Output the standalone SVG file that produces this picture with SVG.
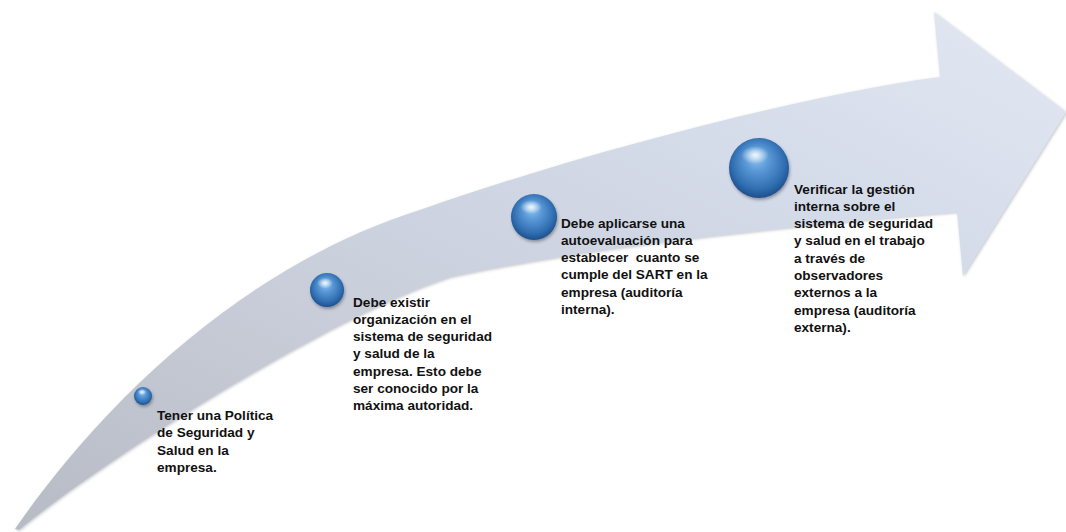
<svg xmlns="http://www.w3.org/2000/svg" width="1066" height="532" viewBox="0 0 1066 532">
  <defs>
    <linearGradient id="arrowFill" x1="0" y1="1" x2="1" y2="0">
      <stop offset="0" stop-color="#b7bbc4"/>
      <stop offset="0.35" stop-color="#c8cdd9"/>
      <stop offset="0.7" stop-color="#d4dbe9"/>
      <stop offset="1" stop-color="#e3e8f2"/>
    </linearGradient>
    <radialGradient id="ball" cx="0.5" cy="0.45" r="0.55" fx="0.45" fy="0.3">
      <stop offset="0" stop-color="#9cc9f0"/>
      <stop offset="0.35" stop-color="#5b9ad8"/>
      <stop offset="0.8" stop-color="#2f6db0"/>
      <stop offset="1" stop-color="#1f4f8c"/>
    </radialGradient>
    <radialGradient id="shine" cx="0.5" cy="0.5" r="0.5">
      <stop offset="0" stop-color="#ffffff" stop-opacity="0.85"/>
      <stop offset="1" stop-color="#ffffff" stop-opacity="0"/>
    </radialGradient>
    <filter id="soft" x="-5%" y="-5%" width="110%" height="110%">
      <feGaussianBlur in="SourceAlpha" stdDeviation="1.5"/>
      <feOffset dx="1" dy="1" result="b"/>
      <feFlood flood-color="#7a7f8a" flood-opacity="0.45"/>
      <feComposite in2="b" operator="in"/>
      <feMerge><feMergeNode/><feMergeNode in="SourceGraphic"/></feMerge>
    </filter>
    <filter id="ballShadow" x="-30%" y="-30%" width="160%" height="170%">
      <feGaussianBlur in="SourceAlpha" stdDeviation="1.5"/>
      <feOffset dx="1" dy="2" result="b"/>
      <feFlood flood-color="#333c4a" flood-opacity="0.45"/>
      <feComposite in2="b" operator="in"/>
      <feMerge><feMergeNode/><feMergeNode in="SourceGraphic"/></feMerge>
    </filter>
  </defs>
  <style>
    .lbl { font-family: "Liberation Sans", Arial, sans-serif; font-weight: bold; font-size: 13.6px; fill: #111111; white-space: pre; }
    .sphere { fill: url(#ball); filter: url(#ballShadow); }
    .shine { fill: url(#shine); }
  </style>
  <rect width="1066" height="532" fill="#ffffff"/>

  <g id="arrow">
    <path d="M15,529 C90,420 230,270 420,210 C590,150 820,92 940,77 L934,12 L1066,112 L963,276 L957,212 C800,225 600,245 450,277 C320,320 90,470 19,530 Z" fill="url(#arrowFill)" filter="url(#soft)"/>
  </g>

  <g id="connectors"></g>

  <g id="node1">
    <circle class="sphere" cx="143" cy="396" r="9"/>
    <ellipse class="shine" cx="142" cy="392" rx="4.5" ry="3"/>
    <text class="lbl" x="157" y="420">Tener una Política</text>
    <text class="lbl" x="157" y="437.3">de Seguridad y</text>
    <text class="lbl" x="157" y="454.6">Salud en la</text>
    <text class="lbl" x="157" y="471.9">empresa.</text>
  </g>

  <g id="node2">
    <circle class="sphere" cx="327" cy="290" r="17"/>
    <ellipse class="shine" cx="325" cy="283" rx="8" ry="5.5"/>
    <text class="lbl" x="353" y="306.5">Debe existir</text>
    <text class="lbl" x="353" y="323.8">organización en el</text>
    <text class="lbl" x="353" y="341.1">sistema de seguridad</text>
    <text class="lbl" x="353" y="358.4">y salud de la</text>
    <text class="lbl" x="353" y="375.7">empresa. Esto debe</text>
    <text class="lbl" x="353" y="393">ser conocido por la</text>
    <text class="lbl" x="353" y="410.3">máxima autoridad.</text>
  </g>

  <g id="node3">
    <circle class="sphere" cx="534" cy="217" r="23"/>
    <ellipse class="shine" cx="531" cy="207" rx="11" ry="7"/>
    <text class="lbl" x="561" y="227.5">Debe aplicarse una</text>
    <text class="lbl" x="561" y="244.8">autoevaluación para</text>
    <text class="lbl" x="561" y="262.1">establecer  cuanto se</text>
    <text class="lbl" x="561" y="279.4">cumple del SART en la</text>
    <text class="lbl" x="561" y="296.7">empresa (auditoría</text>
    <text class="lbl" x="561" y="314">interna).</text>
  </g>

  <g id="node4">
    <circle class="sphere" cx="759" cy="168" r="30"/>
    <ellipse class="shine" cx="755" cy="155" rx="14" ry="9"/>
    <text class="lbl" x="794" y="193.5">Verificar la gestión</text>
    <text class="lbl" x="794" y="210.8">interna sobre el</text>
    <text class="lbl" x="794" y="228.1">sistema de seguridad</text>
    <text class="lbl" x="794" y="245.4">y salud en el trabajo</text>
    <text class="lbl" x="794" y="262.7">a través de</text>
    <text class="lbl" x="794" y="280">observadores</text>
    <text class="lbl" x="794" y="297.3">externos a la</text>
    <text class="lbl" x="794" y="314.6">empresa (auditoría</text>
    <text class="lbl" x="794" y="331.9">externa).</text>
  </g>
</svg>
